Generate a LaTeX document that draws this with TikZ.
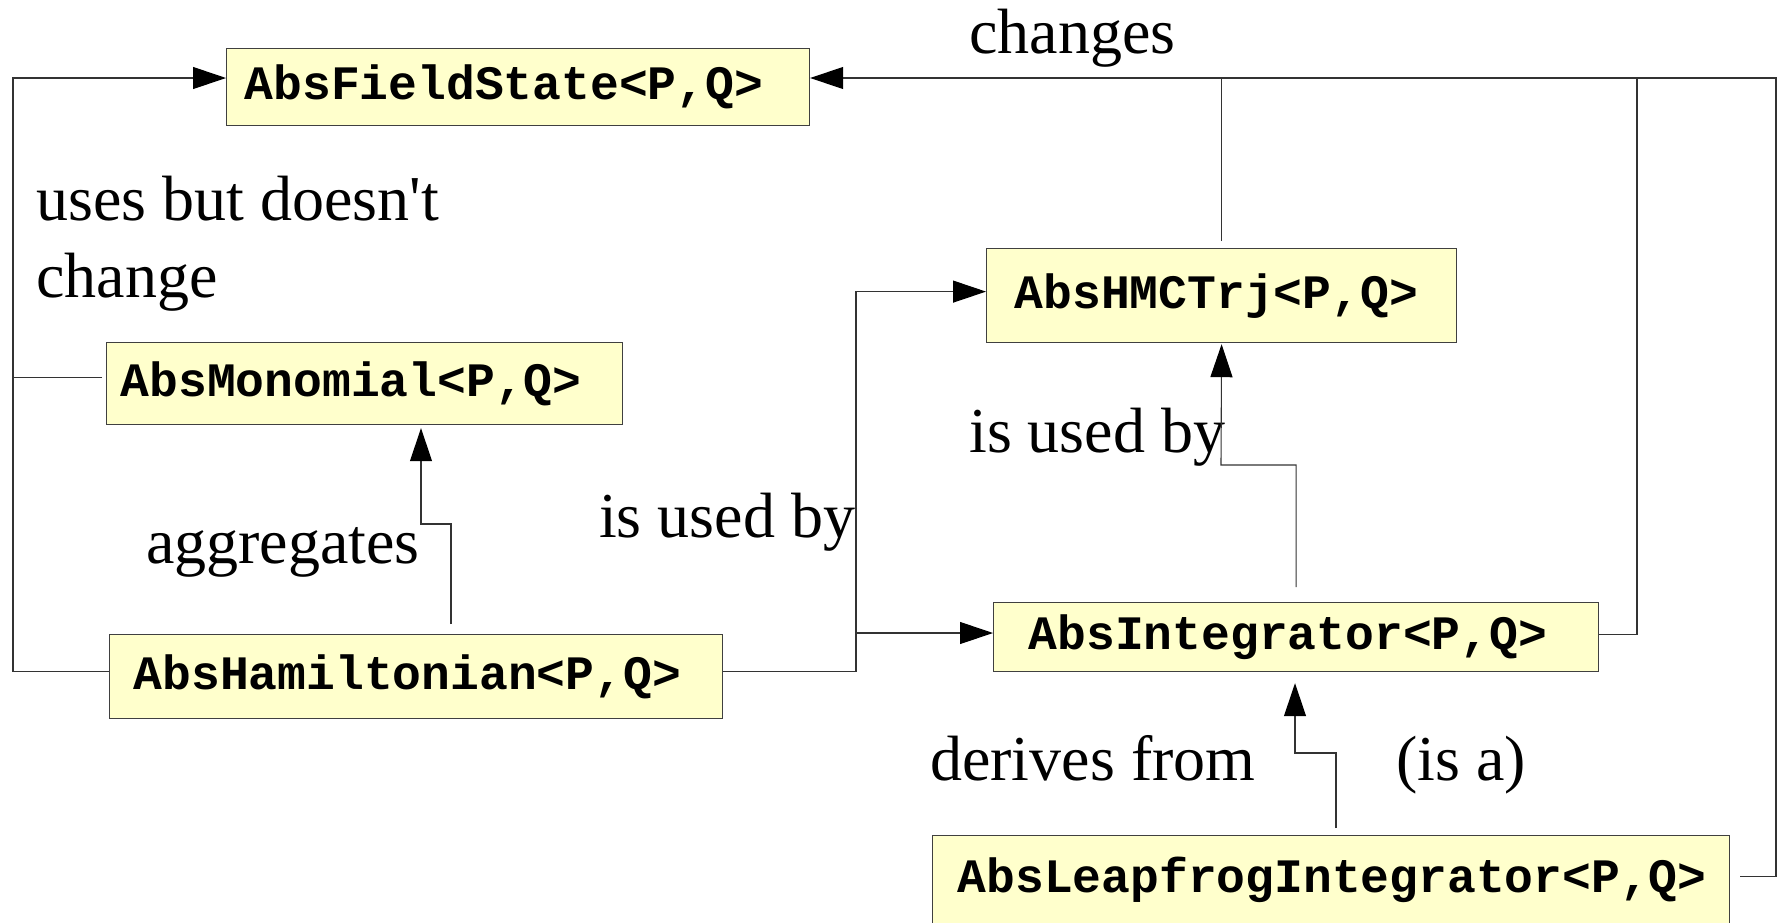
\documentclass[tikz,border=0pt]{standalone}
\usepackage{fontspec}
\usepackage{tikz}
\usetikzlibrary{arrows.meta}
\setmainfont{Liberation Serif}
\newfontfamily\clsfont{Liberation Mono}
\definecolor{cbox}{rgb}{1, 1, 0.8}
\tikzset{cls/.style = {draw = black!75, fill = cbox, anchor = north west, align = left, inner ysep = 0, line width = 1.2pt, font = \clsfont\bfseries\fontsize{48}{56}\selectfont}}
\tikzset{lbl/.style = {anchor = base west, inner sep = 0, font = \fontsize{64}{77}\selectfont}}
\tikzset{conn/.style = {black!80, line width = 1.1pt}}
\tikzset{headed/.style = {-{Triangle[length = 33pt, width = 22pt, color = black]}}}

\begin{document}
\begin{tikzpicture}[x = 1pt, y = -1pt]
      \path[use as bounding box, fill = white] (0, 0) rectangle (1783, 922);

      \node[cls, minimum width = 583pt, minimum height = 77pt, inner xsep = 18pt, text width = 547pt] (fs) at (226, 48) {AbsFieldState<P,Q>};
      \node[cls, minimum width = 516pt, minimum height = 82pt, inner xsep = 14pt, text width = 488pt] (mono) at (106, 342) {AbsMonomial<P,Q>};
      \node[cls, minimum width = 470pt, minimum height = 94pt, inner xsep = 28pt, text width = 414pt] (hmc) at (986, 248) {AbsHMCTrj<P,Q>};
      \node[cls, minimum width = 613pt, minimum height = 84pt, inner xsep = 24pt, text width = 565pt] (ham) at (109, 634) {AbsHamiltonian<P,Q>};
      \node[cls, minimum width = 605pt, minimum height = 69pt, inner xsep = 35pt, text width = 535pt] (integ) at (993, 602) {AbsIntegrator<P,Q>};
      \node[cls, minimum width = 797pt, minimum height = 88pt, inner xsep = 25pt, text width = 747pt] (leap) at (932, 835) {AbsLeapfrogIntegrator<P,Q>};

      \node[lbl] (chg) at (969, 53) {changes};
      \node[lbl] (ubd) at (36, 220) {uses but doesn\textquotesingle t};
      \node[lbl] (chgb) at (36, 297) {change};
      \node[lbl] (agg) at (146, 563) {aggregates};
      \node[lbl] (usedl) at (599, 537) {is used by};
      \node[lbl] (usedr) at (969, 452) {is used by};
      \node[lbl] (der) at (930, 780) {derives from};
      \node[lbl] (isa) at (1396, 780) {(is a)};

      \coordinate (railL) at (13, 78);
      \coordinate (railR) at (1776, 78);
      \coordinate (railI) at (1637, 78);
      \coordinate (aggA) at (451, 524);
      \coordinate (aggB) at (421, 524);
      \coordinate (bus) at (856, 633);
      \coordinate (useB) at (1221, 465);
      \coordinate (derA) at (1336, 753);
      \coordinate (derB) at (1295, 753);

      \draw[conn, headed] ([yshift = 5pt]ham.west) -| (railL) -- (railL -| fs.west);
      \draw[conn] ([xshift = -4pt, yshift = 6pt]mono.west) -- ([yshift = 6pt]mono.west -| railL);
      \draw[conn, headed] ([yshift = 10pt]ham.north -| aggA) -- (aggA) -- (aggB) -- ([yshift = -3pt]mono.south -| aggB);
      \draw[conn] ([yshift = 5pt]ham.east) -| (bus);
      \draw[conn, headed] (bus) -- (bus -| integ.west);
      \draw[conn, headed] (bus) |- ([yshift = 4pt]hmc.west);
      \draw[conn, headed] ([yshift = 15pt]integ.north) |- (useB) -- ([yshift = -1pt]hmc.south);
      \draw[conn] ([yshift = 7pt]hmc.north) -- (hmc.north |- railR);
      \draw[conn] ([yshift = 3pt]integ.east) -| (railI);
      \draw[conn, headed] ([xshift = 10pt, yshift = 3pt]leap.east) -| (railR) -- (railR -| fs.east);
      \draw[conn, headed] ([yshift = 7pt]leap.north -| derA) -- (derA) -- (derB) -- ([yshift = -11pt]integ.south -| derB);

    \end{tikzpicture}
\end{document}
